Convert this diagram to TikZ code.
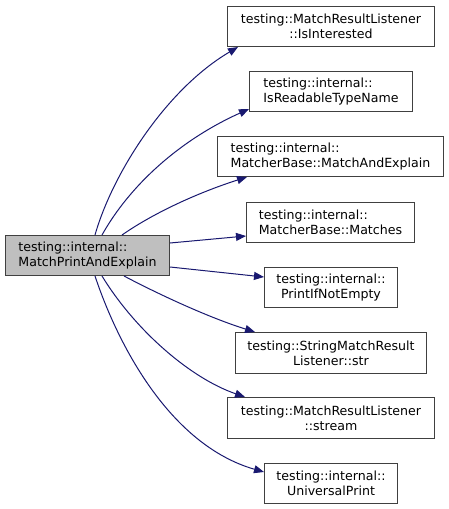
\documentclass[tikz,border=0pt]{standalone}
\usepackage{fontspec}
\setmainfont{DejaVu Sans}
\usetikzlibrary{arrows.meta}
\definecolor{edgec}{HTML}{191970}
\definecolor{boxc}{HTML}{404040}
\definecolor{srcfill}{HTML}{BFBFBF}
\tikzset{
  fn/.style={draw=boxc, line width=1pt, fill=white, inner sep=0pt, anchor=north west,
    font=\fontsize{12.6}{15}\selectfont},
  call/.style={draw=edgec, line width=1pt, -{Triangle[length=10pt,width=8pt]}}
}
\newcommand{\bx}[6]{% name, x1, y1, x2, y2, text/align
  \node[fn, minimum width={#4-#2}, minimum height={#5-#3}, #6] (#1) at (#2,#3)}
\begin{document}
\begin{tikzpicture}[x=1pt,y=-1pt]
\useasboundingbox (0,0) rectangle (449,509);
\bx{src}{5}{235}{169}{275}{fill=srcfill, align=left}{testing::internal::\\MatchPrintAndExplain};
\bx{n1}{227}{6}{434}{46}{align=center}{testing::MatchResultListener\\::IsInterested};
\bx{n2}{249}{71}{412}{111}{align=left}{testing::internal::\\IsReadableTypeName};
\bx{n3}{217}{136}{443}{176}{align=left}{testing::internal::\\MatcherBase::MatchAndExplain};
\bx{n4}{246}{202}{414}{242}{align=left}{testing::internal::\\MatcherBase::Matches};
\bx{n5}{264}{267}{397}{307}{align=center}{testing::internal::\\PrintIfNotEmpty};
\bx{n6}{235}{332}{426}{373}{align=center}{testing::StringMatchResult\\Listener::str};
\bx{n7}{227}{397}{434}{438}{align=center}{testing::MatchResultListener\\::stream};
\bx{n8}{264}{463}{397}{503}{align=center}{testing::internal::\\UniversalPrint};

\draw[call] ([xshift=90pt]src.north west) .. controls (112,175) and (165,90) .. ([xshift=11pt]n1.south west);
\draw[call] ([xshift=97pt]src.north west) .. controls (130,185) and (180,140) .. ([yshift=3pt]n2.south west);
\draw[call] ([xshift=117pt]src.north west) .. controls (155,212) and (200,192) .. ([xshift=30pt]n3.south west);
\draw[call] ([yshift=-8pt]src.north east) -- ([yshift=7pt]n4.south west);
\draw[call] ([yshift=9pt]src.south east) -- ([yshift=-10pt]n5.north west);
\draw[call] ([xshift=119pt]src.south west) .. controls (160,295) and (210,318) .. ([xshift=20pt]n6.north west);
\draw[call] ([xshift=97pt]src.south west) .. controls (135,330) and (190,378) .. ([xshift=18pt]n7.north west);
\draw[call] ([xshift=90pt]src.south west) .. controls (118,345) and (170,445) .. ([yshift=-9pt]n8.north west);
\end{tikzpicture}
\end{document}
